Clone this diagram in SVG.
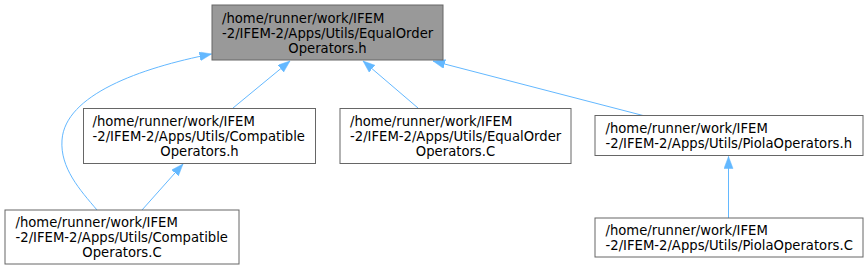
<svg xmlns="http://www.w3.org/2000/svg" width="867" height="271" viewBox="0 0 867 271">
<style>
.box{fill:#ffffff;stroke:#666666;stroke-width:1}
.root{fill:#999999;stroke:#666666;stroke-width:1}
text{font-family:"DejaVu Sans","Liberation Sans",sans-serif;font-size:13.2px;fill:#000000}
.c{text-anchor:middle}
.edge{fill:none;stroke:#63b8ff;stroke-width:1;marker-end:url(#arr)}
</style>
<defs>
<marker id="arr" markerUnits="userSpaceOnUse" markerWidth="14" markerHeight="10" refX="12" refY="4.5" orient="auto">
<path d="M0,0 L12,4.5 L0,9 z" fill="#63b8ff" stroke="#63b8ff" stroke-width="0.5"/>
</marker>
</defs>
<g id="connectors">
<path class="edge" d="M97,210 C80,190 60,168 62,140 C65,95 140,68 211.5,54"/>
<path class="edge" d="M142,210 L183,164"/>
<path class="edge" d="M233,108 L290,61"/>
<path class="edge" d="M418,108 L363,61"/>
<path class="edge" d="M643,115.5 L433,61"/>
<path class="edge" d="M728.5,218 L728.5,156.5"/>
</g>
<g id="node1">
<rect class="root" x="212" y="5" width="231" height="55"/>
<text x="222" y="22.5">/home/runner/work/IFEM</text>
<text x="222" y="37.5">-2/IFEM-2/Apps/Utils/EqualOrder</text>
<text class="c" x="327.5" y="52.5">Operators.h</text>
</g>
<g id="node2">
<rect class="box" x="83.5" y="108.5" width="232" height="55"/>
<text x="92.5" y="126">/home/runner/work/IFEM</text>
<text x="92.5" y="141">-2/IFEM-2/Apps/Utils/Compatible</text>
<text class="c" x="199.5" y="156">Operators.h</text>
</g>
<g id="node3">
<rect class="box" x="5" y="210" width="234" height="54"/>
<text x="15.5" y="227">/home/runner/work/IFEM</text>
<text x="15.5" y="242">-2/IFEM-2/Apps/Utils/Compatible</text>
<text class="c" x="122" y="257">Operators.C</text>
</g>
<g id="node4">
<rect class="box" x="340" y="108.5" width="231" height="55"/>
<text x="350" y="126">/home/runner/work/IFEM</text>
<text x="350" y="141">-2/IFEM-2/Apps/Utils/EqualOrder</text>
<text class="c" x="455.5" y="156">Operators.C</text>
</g>
<g id="node5">
<rect class="box" x="595" y="115.5" width="268" height="40"/>
<text x="605.5" y="133">/home/runner/work/IFEM</text>
<text x="605.5" y="148">-2/IFEM-2/Apps/Utils/PiolaOperators.h</text>
</g>
<g id="node6">
<rect class="box" x="595" y="218" width="268" height="39"/>
<text x="605.5" y="234.5">/home/runner/work/IFEM</text>
<text x="605.5" y="249.5">-2/IFEM-2/Apps/Utils/PiolaOperators.C</text>
</g>
</svg>
